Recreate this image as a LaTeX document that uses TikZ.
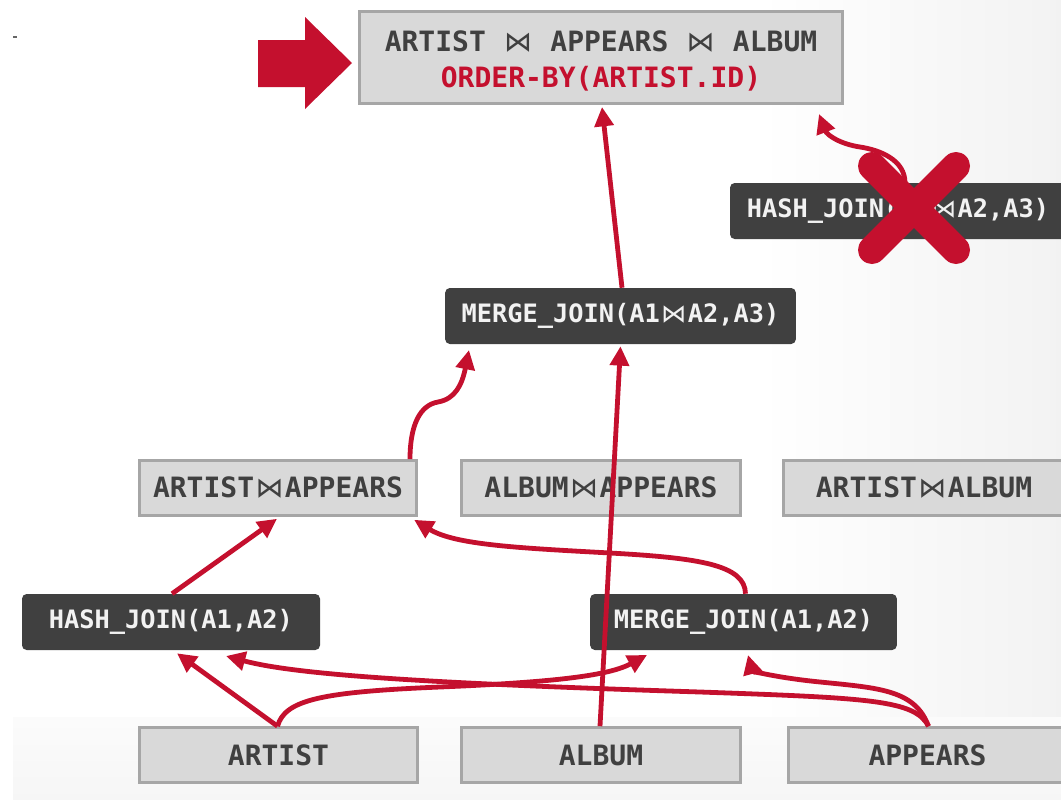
\documentclass[tikz,border=0pt]{standalone}
\usepackage{fontspec}
\setmonofont{DejaVu Sans Mono}
\newfontfamily\symfont{DejaVu Sans}
\usetikzlibrary{arrows.meta,calc}

\definecolor{dbred}{RGB}{196,16,46}
\definecolor{boxgray}{RGB}{217,217,217}
\definecolor{edgegray}{RGB}{166,166,166}
\definecolor{opdark}{RGB}{64,64,64}
\definecolor{textdark}{RGB}{64,64,64}
\definecolor{optext}{RGB}{242,242,242}

% join symbol, a little wider than one monospaced cell
\newcommand\jn{\makebox[1.1em]{\symfont\mdseries ⋈}}

\tikzset{
  relbox/.style={draw=edgegray, line width=2.2pt, fill=boxgray, text=textdark,
    font=\ttfamily\bfseries\fontsize{21}{27}\selectfont,
    minimum height=41pt, inner sep=0pt},
  opbox/.style={fill=opdark, rounded corners=3.5pt, text=optext,
    font=\ttfamily\bfseries\fontsize{19}{23}\selectfont,
    minimum height=42pt, inner sep=0pt},
  link/.style={draw=dbred, line width=3.6pt, -{Triangle[length=14.5pt,width=14pt]}},
}

\begin{document}
\begin{tikzpicture}[x=0.75pt,y=-0.75pt]
  \useasboundingbox (0,0) rectangle (1061,800);

  % background
  \fill[white] (0,0) rectangle (1061,800);
  \shade[left color=white, right color=black!5] (760,0) rectangle (1061,717);
  \shade[top color=black!1.5, bottom color=black!3.5] (13,717) rectangle (1061,800);
  \fill[black!60] (13,36) rectangle (17,38);

  % final result
  \node[relbox, minimum width=362pt, minimum height=69pt, align=center] (top) at (601,57.5)
    {\rule{0pt}{21pt}ARTIST \jn{} APPEARS \jn{} ALBUM\\{\color{dbred}ORDER-BY(ARTIST.ID)}};
  \fill[dbred] (258,40) -- (305,40) -- (305,17) -- (352,63) -- (305,109) -- (305,87) -- (258,87) -- cycle;

  % operators
  \node[opbox, minimum width=252pt] (hj3) at (898,211) {HASH\_JOIN(A1\jn{}A2,A3)\hspace{-8pt}};
  \node[opbox, minimum width=263pt] (mj3) at (620.5,316) {MERGE\_JOIN(A1\jn{}A2,A3)};
  \node[opbox, minimum width=223.5pt] (hj2) at (171,622) {HASH\_JOIN(A1,A2)};
  \node[opbox, minimum width=230pt] (mj2) at (743.5,622) {MERGE\_JOIN(A1,A2)};

  % intermediate relations
  \node[relbox, minimum width=208pt] (aa) at (278,488) {ARTIST\jn{}APPEARS};
  \node[relbox, minimum width=209pt] (ap) at (601,488) {ALBUM\jn{}APPEARS};
  \node[relbox, minimum width=211pt] (al) at (924,488) {ARTIST\jn{}ALBUM};

  % base tables
  \node[relbox, minimum width=209pt] (artist) at (278.5,755) {ARTIST};
  \node[relbox, minimum width=209pt] (album) at (601,755) {ALBUM};
  \node[relbox, minimum width=209pt] (appears) at (927.5,755) {APPEARS};

  % connectors
  \draw[link] ($(mj3.north)+(1.5,0)$) -- ($(top.south)+(1,2)$);
  \draw[link] ($(hj3.north)+(7,0)$) .. controls (905,160) and (880,150) .. (860,147)
              .. controls (840,144) and (827,135) .. (819,114);
  \draw[link] ($(aa.north)+(132,0)$) .. controls (410,425) and (420,405) .. (438,402)
              .. controls (455,399) and (462,385) .. (469,350);
  \draw[link] ($(album.north)+(-1,0)$) -- ($(mj3.south)+(0,2)$);
  \draw[link] ($(hj2.north)+(1,0)$) -- ($(aa.south)+(-1,2)$);
  \draw[link] ($(mj2.north)+(2,0)$) .. controls (745,565) and (700,558) .. (610,553)
              .. controls (520,548) and (455,545) .. ($(aa.south east)+(-4,3)$);
  \draw[link] ($(artist.north)+(-1,0)$) -- ($(hj2.south)+(6,3)$);
  \draw[link] ($(artist.north)+(-1,0)$) .. controls (285,700) and (320,692) .. (440,687)
              .. controls (560,682) and (610,675) .. (647,655);
  \draw[link] ($(appears.north)+(1,0)$) .. controls (915,700) and (870,698) .. (700,692)
              .. controls (450,684) and (300,676) .. (226,656);
  \draw[link] ($(appears.north)+(1,0)$) .. controls (915,690) and (880,688) .. (820,682)
              .. controls (770,677) and (752,670) .. (748,655);

  % rejected plan
  \draw[dbred, line width=21pt, line cap=round] (872,166) -- (956,250);
  \draw[dbred, line width=21pt, line cap=round] (956,166) -- (872,250);
\end{tikzpicture}
\end{document}
